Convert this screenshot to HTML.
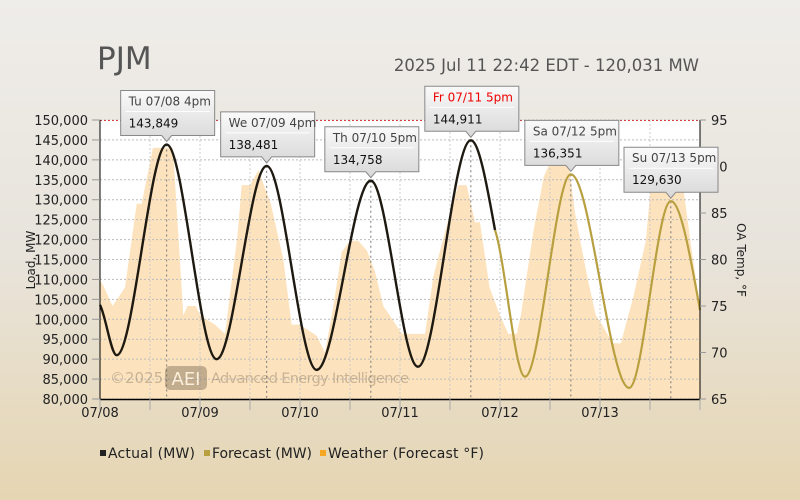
<!DOCTYPE html>
<html><head><meta charset="utf-8"><style>
html,body{margin:0;padding:0}
body{width:800px;height:500px;overflow:hidden;background:linear-gradient(#efede9 0%,#e8e4dc 50%,#e6d5b2 100%);font-family:"DejaVu Sans","Liberation Sans",sans-serif}
svg{position:absolute;left:0;top:0}
</style></head><body>
<svg id="chart" width="800" height="500" font-family="DejaVu Sans, Liberation Sans, sans-serif">
<text x="97" y="69" font-size="31" fill="#555">PJM</text>
<text x="699" y="71" font-size="16.5" fill="#555" text-anchor="end">2025 Jul 11 22:42 EDT - 120,031 MW</text>
<rect x="100" y="120" width="600" height="279" fill="#fff"/>
<g id="weather"></g>
<g id="grid"></g>
<g id="wm" opacity="0.45">
<text x="110" y="383" font-size="15" fill="#8a7a66">©2025</text>
<rect x="165" y="366" width="42" height="24" rx="5" fill="#7a6a55"/>
<text x="186" y="385" font-size="18" fill="#fff" text-anchor="middle">AEI</text>
<text x="211" y="383" font-size="14.5" fill="#8a7a66" textLength="198">Advanced Energy Intelligence</text>
</g>
<g id="lines"></g>
<g id="axes"></g>
<g id="tips"></g>
<text transform="translate(35,260) rotate(-90)" font-size="12" fill="#222" text-anchor="middle">Load, MW</text>
<text transform="translate(737,260) rotate(90)" font-size="12" fill="#222" text-anchor="middle">OA Temp, °F</text>
<g font-size="14" fill="#222">
<g><rect x="100" y="450" width="6" height="6" fill="#222"/><text x="108" y="458" textLength="87">Actual (MW)</text></g>
<g><rect x="204" y="450" width="6" height="6" fill="#b8a040"/><text x="212" y="458" textLength="100">Forecast (MW)</text></g>
<g><rect x="320" y="450" width="6" height="6" fill="#f5a623"/><text x="328" y="458" textLength="156">Weather (Forecast °F)</text></g>
</g>
</svg>
<script>
const actualHours=[0,4,16,28,40,52,65,76.3,89,94.8];
const actualValues=[103600,91000,143849,90000,138481,87300,134758,88100,144911,122400];
const forecastHours=[94.8,102,113,127,137,144];
const forecastValues=[122400,85600,136351,82800,129630,102300];
const weatherHours=[0,1,3,6,8.8,10,12.7,17.5,20,21,23,24,27.6,30,33,34,36,38,41,44,46,48,52,54,56,58,60,62,64,66,68,72.5,78,80,84,86,88,90,91.2,93.5,96,98,100,101,104,106.5,108,112,114,117,119,120.5,123,125,128,131,132,133,139,142,144];
const weatherValues=[77.8,77,75,77,86,86,92,92,74,75,75,74,73,72,82.6,88,88,89.6,86,80,73,73,71.8,70,75,80.8,82,82,81,78.7,75,72,72,78.2,85,88,88,84,84,77,74,72,72,74,83,88.9,90.4,92,85,78,74,73,71,71,76,82,87,91,91,81,75];
const yTicks=[80000,85000,90000,95000,100000,105000,110000,115000,120000,125000,130000,135000,140000,145000,150000];
const y2Ticks=[65,70,75,80,85,90,95];
const xLabels=["07/08","07/09","07/10","07/11","07/12","07/13"];
const peakHours=[16,40,65,89,113,137];
const peakValues=[143849,138481,134758,144911,136351,129630];
const peakLabels=["Tu 07/08 4pm","We 07/09 4pm","Th 07/10 5pm","Fr 07/11 5pm","Sa 07/12 5pm","Su 07/13 5pm"];

const NS="http://www.w3.org/2000/svg";
const X=h=>100+h*600/144;
const Y=v=>120+(150000-v)*279/70000;
const Y2=t=>120+(95-t)*279/30;
function mk(tag,attrs,parent){const e=document.createElementNS(NS,tag);for(const k in attrs)e.setAttribute(k,attrs[k]);parent.appendChild(e);return e;}
function smooth(hs,vs){
  const n=hs.length,d=[],m=[];
  for(let i=0;i<n-1;i++)d.push((vs[i+1]-vs[i])/(hs[i+1]-hs[i]));
  for(let i=0;i<n;i++){
    if(i==0)m.push(d[0]*0.6);else if(i==n-1)m.push(d[n-2]*1.5);
    else m.push(d[i-1]*d[i]<=0?0:(d[i-1]+d[i])/2);
  }
  let p="M"+X(hs[0])+","+Y(vs[0]);
  for(let i=0;i<n-1;i++){const dh=(hs[i+1]-hs[i])/3;
    p+=" C"+X(hs[i]+dh)+","+Y(vs[i]+m[i]*dh)+" "+X(hs[i+1]-dh)+","+Y(vs[i+1]-m[i+1]*dh)+" "+X(hs[i+1])+","+Y(vs[i+1]);}
  return p;
}
const wg=document.getElementById('weather');
let wp="M100,399";
for(let i=0;i<weatherHours.length;i++)wp+=" L"+X(weatherHours[i])+","+Y2(weatherValues[i]);
wp+=" L700,399 Z";
const wa=mk('path',{d:wp,fill:'#fde3bd'},wg);


const g=document.getElementById('grid');
yTicks.forEach(v=>{const l=mk('line',{x1:100,x2:700,y1:Y(v),y2:Y(v),stroke:'#bbb','stroke-dasharray':'2,2','stroke-width':1},g);});
for(let h=12;h<144;h+=12){const l=mk('line',{x1:X(h),x2:X(h),y1:120,y2:399,stroke:'#ccc','stroke-dasharray':'2,2'},g);}
peakHours.forEach((h,i)=>{const l=mk('line',{x1:X(h),x2:X(h),y1:Y(peakValues[i]),y2:399,stroke:'#777','stroke-dasharray':'2,3'},g);});
mk('line',{x1:100,x2:700,y1:120.5,y2:120.5,stroke:'#c44','stroke-dasharray':'2,2'},g);
const lg=document.getElementById('lines');
const fl=mk('path',{d:smooth(forecastHours,forecastValues),fill:'none',stroke:'#b8a040','stroke-width':2.2},lg);


const al=mk('path',{d:smooth(actualHours,actualValues),fill:'none',stroke:'#1e1a12','stroke-width':2.4},lg);


const ax=document.getElementById('axes');
mk('line',{x1:100,x2:100,y1:120,y2:399,stroke:'#000'},ax);
mk('line',{x1:100,x2:700,y1:399.5,y2:399.5,stroke:'#000','stroke-width':1.5},ax);
mk('line',{x1:700,x2:700,y1:120,y2:399,stroke:'#000'},ax);
yTicks.forEach(v=>{mk('line',{x1:92,x2:100,y1:Y(v),y2:Y(v),stroke:'#999'},ax);
 const t=mk('text',{x:88,y:Y(v)+5,'font-size':13,'text-anchor':'end',fill:'#222'},ax);t.textContent=v.toLocaleString('en-US');
 });
y2Ticks.forEach(v=>{mk('line',{x1:700,x2:706,y1:Y2(v),y2:Y2(v),stroke:'#999'},ax);
 const t=mk('text',{x:711,y:Y2(v)+5,'font-size':13,fill:'#222'},ax);t.textContent=v;
 });
for(let h=0;h<=144;h+=12)mk('line',{x1:X(h),x2:X(h),y1:399,y2:410,stroke:'#aaa'},ax);
xLabels.forEach((s,i)=>{const t=mk('text',{x:X(i*24),y:417,'font-size':13,'text-anchor':'middle',fill:'#222'},ax);t.textContent=s;
 });
const tg=document.getElementById('tips');
const defs=mk('defs',{},document.getElementById('chart'));
const gr=mk('linearGradient',{id:'tipg',x1:0,y1:0,x2:0,y2:1},defs);
mk('stop',{offset:0,'stop-color':'#fafafa'},gr);mk('stop',{offset:1,'stop-color':'#d8d8d8'},gr);
peakHours.forEach((h,i)=>{
 const cx=X(h),py=Y(peakValues[i]),w=94,bh=45,bottom=py-9,top=bottom-bh,left=Math.min(cx-46,718-w);
 const grp=mk('g',{},tg);
 
 
 mk('path',{d:`M${left},${top} h${w} v${bh} H${cx+5} l-5,6 l-5,-6 H${left} Z`,fill:'url(#tipg)',stroke:'#888'},grp);
 mk('line',{x1:left+5,x2:left+w-5,y1:top+21,y2:top+21,stroke:'#fff'},grp);
 const a=mk('text',{x:left+8,y:top+15,'font-size':12,fill:i==3?'#e00':'#444'},grp);a.textContent=peakLabels[i];
 const b=mk('text',{x:left+8,y:top+37,'font-size':12,fill:'#111'},grp);b.textContent=peakValues[i].toLocaleString('en-US');
});
</script>
</body></html>
